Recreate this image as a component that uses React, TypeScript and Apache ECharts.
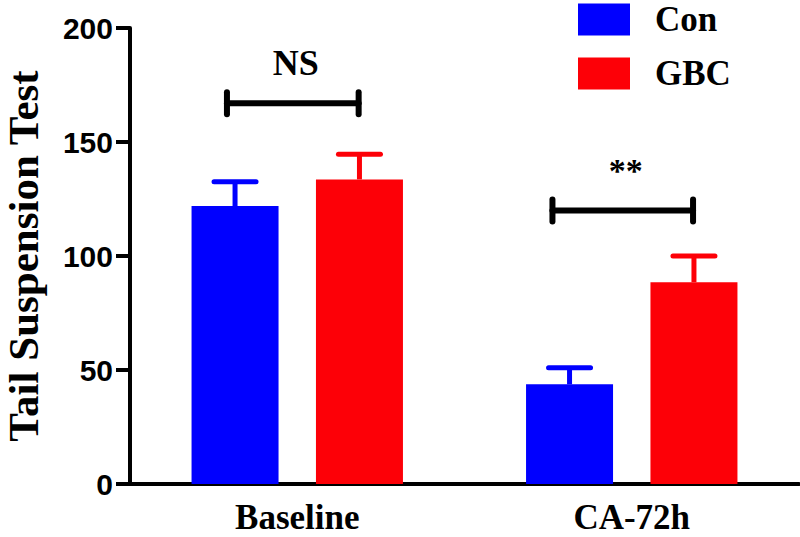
import React, { useEffect, useRef } from "react";
import * as echarts from "echarts";

// ---- data ----
const categories = ["Baseline", "CA-72h"];
const seriesNames = ["Con", "GBC"];
const conMeans = [121.9, 43.7];
const conUpper = [132.6, 51.0];
const gbcMeans = [133.6, 88.5];
const gbcUpper = [144.6, 100.0];
const bracketLevels = [167, 120];
const bracketLabels = ["NS", "**"];
const yTicks = [0, 50, 100, 150, 200];

// ---- styles / layout ----
const BLUE = "#0000ff";
const RED = "#fd0007";
const SERIF = '"Liberation Serif", "Times New Roman", serif';
const SANS = '"Liberation Sans", Arial, sans-serif';
const BAR_WIDTH = 87;
const BAR_GAP = 0.43;
const BAR_OFFSET = (BAR_WIDTH * (1 + BAR_GAP)) / 2;
const bracketSpans = [
  [-70.3, 61.4],
  [-79.3, 61.3],
];

export default function App() {
  const ref = useRef<HTMLDivElement>(null);

  useEffect(() => {
    if (!ref.current) return;
    const chart = echarts.init(ref.current, undefined, { renderer: "svg" });

    const errorSeries = (name: string, means: number[], upper: number[], color: string, offset: number) => ({
      type: "custom",
      name: name + "-err",
      data: means.map((m, i) => [i, m, upper[i]]),
      encode: { x: 0, y: 2 },
      z: 3,
      silent: true,
      renderItem: (params: any, api: any) => {
        const cat = api.value(0);
        const base = api.coord([cat, api.value(1)]);
        const top = api.coord([cat, api.value(2)]);
        const x = top[0] + offset;
        return {
          type: "group",
          children: [
            {
              type: "line",
              shape: { x1: x, y1: base[1], x2: x, y2: top[1] },
              style: { stroke: color, lineWidth: 5 },
            },
            {
              type: "line",
              shape: { x1: x - 21, y1: top[1], x2: x + 21, y2: top[1] },
              style: { stroke: color, lineWidth: 5, lineCap: "round" },
            },
          ],
        };
      },
    });

    const option: any = {
      animation: false,
      backgroundColor: "#ffffff",
      grid: {
        left: 130,
        right: 1,
        top: 28,
        bottom: 53,
        containLabel: false,
        outerBoundsMode: "none",
      },
      legend: {
        orient: "vertical",
        left: 578,
        top: 2,
        padding: 0,
        itemWidth: 52,
        itemHeight: 32,
        itemGap: 19,
        icon: "rect",
        data: seriesNames,
        textStyle: {
          fontFamily: SERIF,
          fontWeight: "bold",
          fontSize: 35,
          lineHeight: 32,
          color: "#000",
          padding: [0, 0, 0, 20],
        },
        selectedMode: false,
      },
      xAxis: {
        type: "category",
        data: categories,
        axisLine: { lineStyle: { color: "#000", width: 4 } },
        axisTick: { alignWithLabel: true, length: 13, lineStyle: { color: "#000", width: 4 } },
        axisLabel: {
          margin: 18,
          lineHeight: 30,
          fontFamily: SERIF,
          fontWeight: "bold",
          fontSize: 35,
          color: "#000",
        },
      },
      yAxis: {
        type: "value",
        min: yTicks[0],
        max: yTicks[yTicks.length - 1],
        interval: yTicks[1] - yTicks[0],
        name: "Tail Suspension Test",
        nameLocation: "middle",
        nameGap: 90,
        nameRotate: 90,
        nameTextStyle: {
          fontFamily: SERIF,
          fontWeight: "bold",
          fontSize: 43,
          lineHeight: 34,
          color: "#000",
        },
        axisLine: { show: true, lineStyle: { color: "#000", width: 4 } },
        axisTick: { show: true, length: 14, lineStyle: { color: "#000", width: 4 } },
        splitLine: { show: false },
        axisLabel: {
          margin: 17,
          fontFamily: SANS,
          fontWeight: "bold",
          fontSize: 30,
          color: "#000",
        },
      },
      series: [
        {
          type: "bar",
          name: seriesNames[0],
          data: conMeans,
          barWidth: BAR_WIDTH,
          barGap: BAR_GAP * 100 + "%",
          itemStyle: { color: BLUE },
        },
        {
          type: "bar",
          name: seriesNames[1],
          data: gbcMeans,
          barWidth: BAR_WIDTH,
          barGap: BAR_GAP * 100 + "%",
          itemStyle: { color: RED },
        },
        errorSeries(seriesNames[0], conMeans, conUpper, BLUE, -BAR_OFFSET),
        errorSeries(seriesNames[1], gbcMeans, gbcUpper, RED, BAR_OFFSET),
        {
          type: "custom",
          name: "brackets",
          data: bracketLevels.map((v, i) => [i, v]),
          encode: { x: 0, y: 1 },
          silent: true,
          z: 4,
          renderItem: (params: any, api: any) => {
            const i = params.dataIndex;
            const c = api.coord([api.value(0), api.value(1)]);
            const x1 = c[0] + bracketSpans[i][0];
            const x2 = c[0] + bracketSpans[i][1];
            const y = c[1];
            const ls = { stroke: "#000", lineWidth: 6, lineCap: "round" };
            return {
              type: "group",
              children: [
                { type: "line", shape: { x1, y1: y, x2, y2: y }, style: ls },
                { type: "line", shape: { x1, y1: y - 11, x2: x1, y2: y + 11 }, style: ls },
                { type: "line", shape: { x1: x2, y1: y - 11, x2, y2: y + 11 }, style: ls },
                {
                  type: "text",
                  style: {
                    text: bracketLabels[i],
                    x: (x1 + x2) / 2 + 3,
                    y: y - 40,
                    align: "center",
                    verticalAlign: "middle",
                    fill: "#000",
                    fontFamily: SERIF,
                    fontWeight: "bold",
                    fontSize: i === 0 ? 36 : 34,
                  },
                },
              ],
            };
          },
        },
      ],
    };

    chart.setOption(option);
    return () => chart.dispose();
  }, []);

  return (
    <div
      ref={ref}
      style={{ position: "fixed", left: 0, top: 0, width: 800, height: 537, background: "#fff" }}
    />
  );
}
